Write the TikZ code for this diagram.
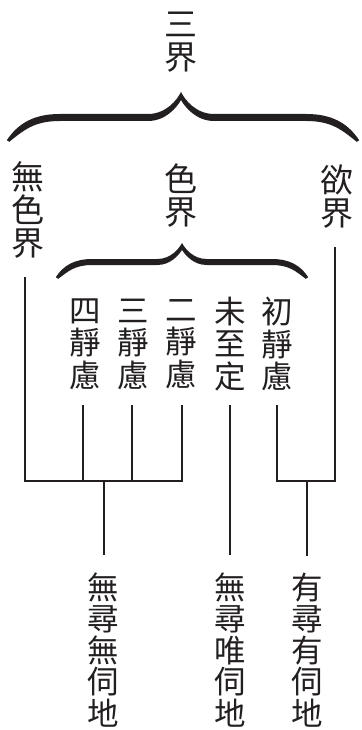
\documentclass[tikz,border=0pt]{standalone}
\usepackage{fontspec}
\newfontfamily\cjk{Noto Sans CJK TC}
\definecolor{ink}{RGB}{35,31,32}
\newcommand\halfbrace[4]{%
\pgfmathsetmacro\xa{#1+2.2*(#2-#3)}%
\pgfmathsetmacro\xb{-1.3*#3}%
\fill[ink]
 (#1-1.2,#2-0.8) .. controls ({#1+0.25*(\xa-#1)-0.8*#4}, {#2-0.6*(#2-#3)-#4}) and ({#1+0.5*(\xa-#1)}, #3-#4) .. (\xa,#3-#4)
 -- (\xb,#3-#4) .. controls ({0.45*\xb},#3-#4) and ({0.12*\xb}, {0.45*#3-#4}) .. (0,0)
 -- (0,{2.3*#4}) .. controls ({0.12*\xb}, {0.45*#3+#4}) and ({0.45*\xb},#3+#4) .. (\xb,#3+#4)
 -- (\xa,#3+#4) .. controls ({#1+0.5*(\xa-#1)}, #3+#4) and ({#1+0.25*(\xa-#1)+0.8*#4}, {#2-0.6*(#2-#3)+#4}) .. (#1+1.2,#2+0.8) -- cycle;
}
\begin{document}
\begin{tikzpicture}[x=1pt,y=-1pt,
  vt/.style={inner sep=0pt, align=center, text=ink, font=\cjk\fontsize{33}{33}\selectfont},
  vtc/.style={vt, font=\cjk\fontsize{31.5}{32.5}\selectfont},
  vtb/.style={vt, font=\cjk\fontsize{31.5}{31.5}\selectfont},
  ln/.style={draw=ink, line width=1.9pt, line join=miter}]
\useasboundingbox (0,0) rectangle (361,730);
% top level
\node[vt] (sanjie) at (181,42) {三\\界};
\node[vt] (wuse) at (28,210) {無\\色\\界};
\node[vt] (sejie) at (181,196) {色\\界};
\node[vt] (yujie) at (337,197) {欲\\界};
% columns
\node[vtc] (c4) at (85,344) {四\\靜\\慮};
\node[vtc] (c3) at (133,344) {三\\靜\\慮};
\node[vtc] (c2) at (181,344) {二\\靜\\慮};
\node[vtc] (c0) at (230,344) {未\\至\\定};
\node[vtc] (c1) at (277,344) {初\\靜\\慮};
% bottom
\node[vtb] (b1) at (103,650) {無\\尋\\無\\伺\\地};
\node[vtb] (b2) at (230,650) {無\\尋\\唯\\伺\\地};
\node[vtb] (b3) at (307,650) {有\\尋\\有\\伺\\地};
% braces
\begin{scope}[shift={(181,92)}]
  \halfbrace{-173}{49}{25.5}{3.5}
\end{scope}
\begin{scope}[shift={(181,92)},xscale=-1]
  \halfbrace{-177}{49}{25.5}{3.5}
\end{scope}
\begin{scope}[shift={(182,243)}]
  \halfbrace{-125}{35}{19}{3}
\end{scope}
\begin{scope}[shift={(182,243)},xscale=-1]
  \halfbrace{-125}{35}{19}{3}
\end{scope}
% connector coordinates
\coordinate (wTop) at (25,277);
\coordinate (yTop) at (335,247);
\coordinate (jL) at (104,481);
\coordinate (jR) at (307,481);
\foreach \n/\x in {c4/83,c3/132,c2/182,c0/230,c1/277}{
  \coordinate (\n t) at (\x,405);
}
\coordinate (b1t) at (104,555);
\coordinate (b2t) at (230,555);
\coordinate (b3t) at (307,556);
% connectors
\draw[ln] (wTop) |- (jL) -| (c2t);
\draw[ln] (c4t) -- (c4t |- jL);
\draw[ln] (c3t) -- (c3t |- jL);
\draw[ln] (jL) -- (b1t);
\draw[ln] (c0t) -- (b2t);
\draw[ln] (c1t) |- (jR) -| (yTop);
\draw[ln] (jR) -- (b3t);
\end{tikzpicture}
\end{document}
